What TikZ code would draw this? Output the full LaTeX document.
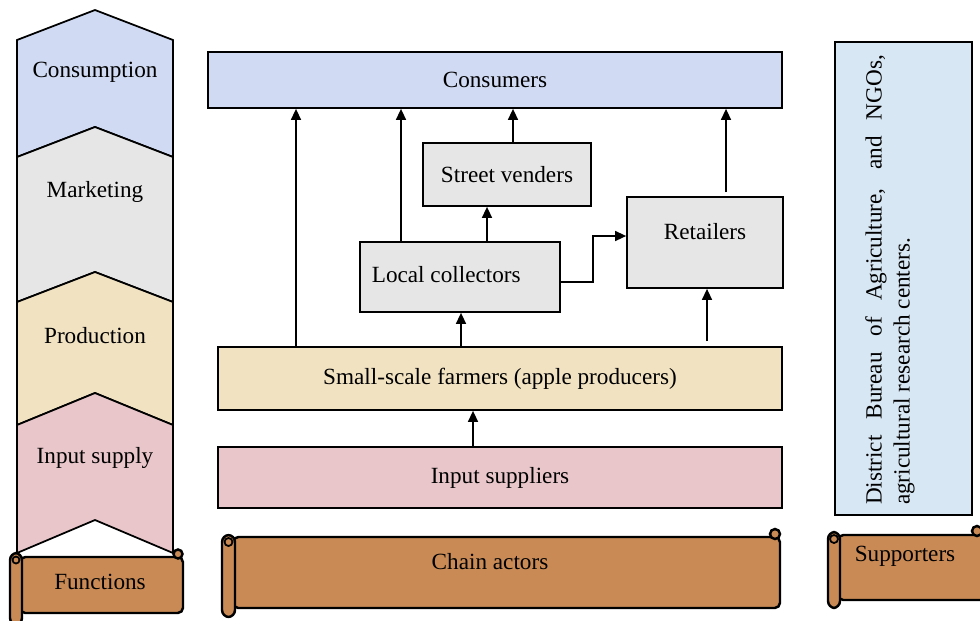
\documentclass[tikz,border=0pt]{standalone}
\usepackage{fontspec}
\setmainfont{Liberation Serif}
\usetikzlibrary{arrows.meta}

\definecolor{bleuconso}{HTML}{D0DAF2}
\definecolor{marbre}{HTML}{E6E6E6}
\definecolor{beige}{HTML}{F1E2C2}
\definecolor{rose}{HTML}{E9C6CA}
\definecolor{bois}{HTML}{C98A55}
\definecolor{ciel}{HTML}{D8E7F4}

\tikzset{
  boite/.style={draw, line width=1pt, inner sep=2pt},
  fleche/.style={-{Triangle[length=0.22cm,width=0.2cm]}, line width=0.8pt},
  rouleau/.style={draw, fill=bois, line width=1.4pt},
  txt/.style={font=\fontsize{13.2}{16}\selectfont}
}

\begin{document}
\begin{tikzpicture}[x=0.02cm, y=-0.02cm, every node/.style={txt}]

% Cadre de la figure
\useasboundingbox (0,0) rectangle (980,620);

% Colonne des fonctions (chevrons)
\draw[fill=bleuconso, line width=1pt] (17,40) -- (95,10) -- (173,40) -- (173,157) -- (95,127) -- (17,157) -- cycle;
\draw[fill=marbre, line width=1pt] (17,157) -- (95,127) -- (173,157) -- (173,302) -- (95,272) -- (17,302) -- cycle;
\draw[fill=beige, line width=1pt] (17,302) -- (95,272) -- (173,302) -- (173,425) -- (95,393) -- (17,425) -- cycle;
\draw[fill=rose, line width=1pt] (17,425) -- (95,393) -- (173,425) -- (173,553) -- (95,520) -- (17,553) -- cycle;

\node (fconso) at (95,72) {Consumption};
\node (fmarket) at (95,192) {Marketing};
\node (fprod) at (95,336) {Production};
\node (finput) at (95,458) {Input supply};

% Acteurs de la chaine
\node[boite, fill=bleuconso, minimum width=11.48cm, minimum height=1.12cm] (cons) at (495,80) {Consumers};
\node[boite, fill=marbre, minimum width=3.36cm, minimum height=1.26cm] (sv) at (507,174.5) {Street venders};
\node[boite, fill=marbre, minimum width=4cm, minimum height=1.4cm] (lc) at (460,277) {\raisebox{0.12cm}{Local collectors\hspace{0.55cm}}};
\node[boite, fill=marbre, minimum width=3.12cm, minimum height=1.82cm] (ret) at (705,242.5) {\raisebox{0.45cm}{Retailers}};
\node[boite, fill=beige, minimum width=11.28cm, minimum height=1.26cm] (farm) at (500,378.5) {Small-scale farmers (apple producers)};
\node[boite, fill=rose, minimum width=11.28cm, minimum height=1.22cm] (inp) at (500,477.5) {Input suppliers};

% Fleches
\draw[fleche] (inp.north -| 473,0) -- (farm.south -| 473,0);
\draw[fleche] (farm.north -| 296,0) -- (cons.south -| 296,0);
\draw[fleche] (farm.north -| 461,0) -- (lc.south -| 461,0);
\draw[fleche] ([yshift=0.1cm]farm.north -| 707,0) -- (ret.south -| 707,0);
\draw[fleche] (lc.north -| 401,0) -- (cons.south -| 401,0);
\draw[fleche] (lc.north -| 487,0) -- (sv.south -| 487,0);
\draw[fleche] (sv.north -| 513,0) -- (cons.south -| 513,0);
\draw[fleche] (lc.east |- 0,282) -| (593,236) -- (ret.west |- 0,236);
\draw[fleche] ([yshift=0.08cm]ret.north -| 726,0) -- (cons.south -| 726,0);

% Soutiens
\node[boite, fill=ciel, line width=0.8pt, minimum width=2.74cm, minimum height=9.46cm] (supbox) at (903.5,278.5) {};
\node[rotate=90, text width=9cm, align=justify] (suptxt) at (890,280) {District Bureau of Agriculture, and NGOs,\linebreak agricultural research centers.};

% Rouleaux
\draw[rouleau, rounded corners=3] (20,557) rectangle (183,613);
\draw[rouleau] (178,554) circle (4.5);
\draw[rouleau, rounded corners=4] (10,553) rectangle (22,625);
\draw[line width=1pt] (16,560) circle (3.5);
\node (fct) at (100,582) {Functions};

\draw[rouleau, rounded corners=3] (233,537) rectangle (780,608);
\draw[rouleau] (775,534) circle (5);
\draw[rouleau, rounded corners=4] (222,535) rectangle (235,617);
\draw[line width=1pt] (228.5,542) circle (4);
\node (chain) at (490,562) {Chain actors};

\draw[rouleau, rounded corners=3] (838,535) rectangle (990,600);
\draw[rouleau] (977,531) circle (5);
\draw[rouleau, rounded corners=4] (828,532) rectangle (840,608);
\draw[line width=1pt] (834,539) circle (4);
\node (sup) at (905,556) {Supporters};

\end{tikzpicture}
\end{document}
